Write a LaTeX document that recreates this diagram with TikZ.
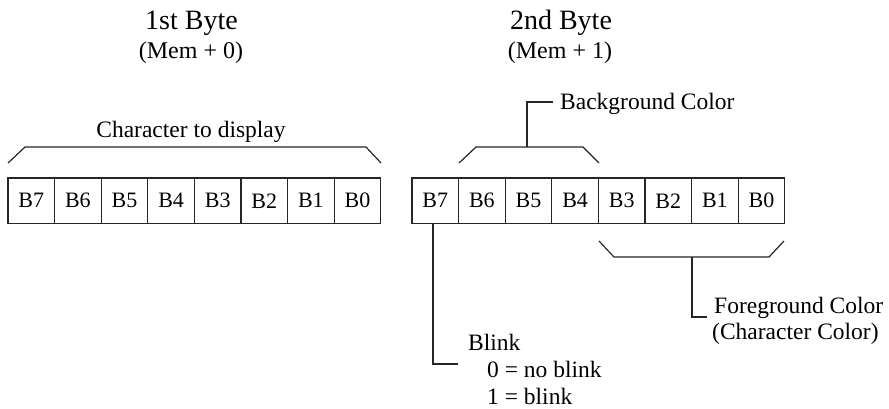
\documentclass[tikz,border=0pt]{standalone}
\usepackage{fontspec}
\setmainfont{Liberation Serif}
\begin{document}
\begin{tikzpicture}[x=1pt,y=-1pt,
  bitcell/.style={draw=black!85,line width=1.2pt,minimum width=46.6pt,minimum height=45.5pt,inner sep=0pt,outer sep=0pt,font=\fontsize{22}{26}\selectfont},
  ttl/.style={anchor=base,inner sep=0pt,font=\fontsize{28}{32}\selectfont},
  sub/.style={anchor=base,inner sep=0pt,font=\fontsize{24}{28}\selectfont},
  lbl/.style={anchor=base west,inner sep=0pt,font=\fontsize{23.5}{27}\selectfont},
  brk/.style={draw=black!85,line width=1.2pt}]
\useasboundingbox (0,0) rectangle (889,408);
% titles
\node[ttl] (t1) at (191.5,29.5) {1st Byte};
\node[sub] (s1) at (191,58) {(Mem + 0)};
\node[ttl] (t2) at (561,29.5) {2nd Byte};
\node[sub] (s2) at (560,58) {(Mem + 1)};
% cells
\foreach \b [count=\k from 0] in {7,6,5,4,3,2,1,0} {
  \node[bitcell] (l\b) at ({31.3+46.6*\k},200.75) {B\b};
  \node[bitcell] (r\b) at ({435.3+46.6*\k},200.75) {B\b};
}
% character to display
\node[lbl,anchor=base] (chr) at (191,137) {Character to display};
\coordinate (la) at (8,163);
\coordinate (lb) at (25,147);
\coordinate (lc) at (366,147);
\coordinate (ld) at (381,163);
\draw[brk] (la) -- (lb) -- (lc) -- (ld);
% background color
\coordinate (ba) at (459,163);
\coordinate (bb) at (476,147);
\coordinate (bc) at (583,147);
\coordinate (bd) at (599,163);
\coordinate (bs) at (527,147);
\coordinate (be) at (553,102);
\draw[brk] (ba) -- (bb) -- (bc) -- (bd);
\node[lbl] (bg) at (560,109) {Background Color};
\draw[brk] (bs) |- (be);
% foreground color
\coordinate (fa) at (599,241);
\coordinate (fb) at (614,257);
\coordinate (fc) at (769,257);
\coordinate (fd) at (784,241);
\coordinate (fs) at (692,257);
\coordinate (fe) at (707,317);
\draw[brk] (fa) -- (fb) -- (fc) -- (fd);
\draw[brk] (fs) |- (fe);
\node[lbl] (fg1) at (714,313) {Foreground Color};
\node[lbl] (fg2) at (712,339) {(Character Color)};
% blink
\coordinate (ks) at (433,223.5);
\coordinate (ke) at (458,364);
\draw[brk] (ks) |- (ke);
\node[lbl] (bl1) at (468,350) {Blink};
\node[lbl] (bl2) at (487,377) {0 = no blink};
\node[lbl] (bl3) at (487,404) {1 = blink};
\end{tikzpicture}
\end{document}
